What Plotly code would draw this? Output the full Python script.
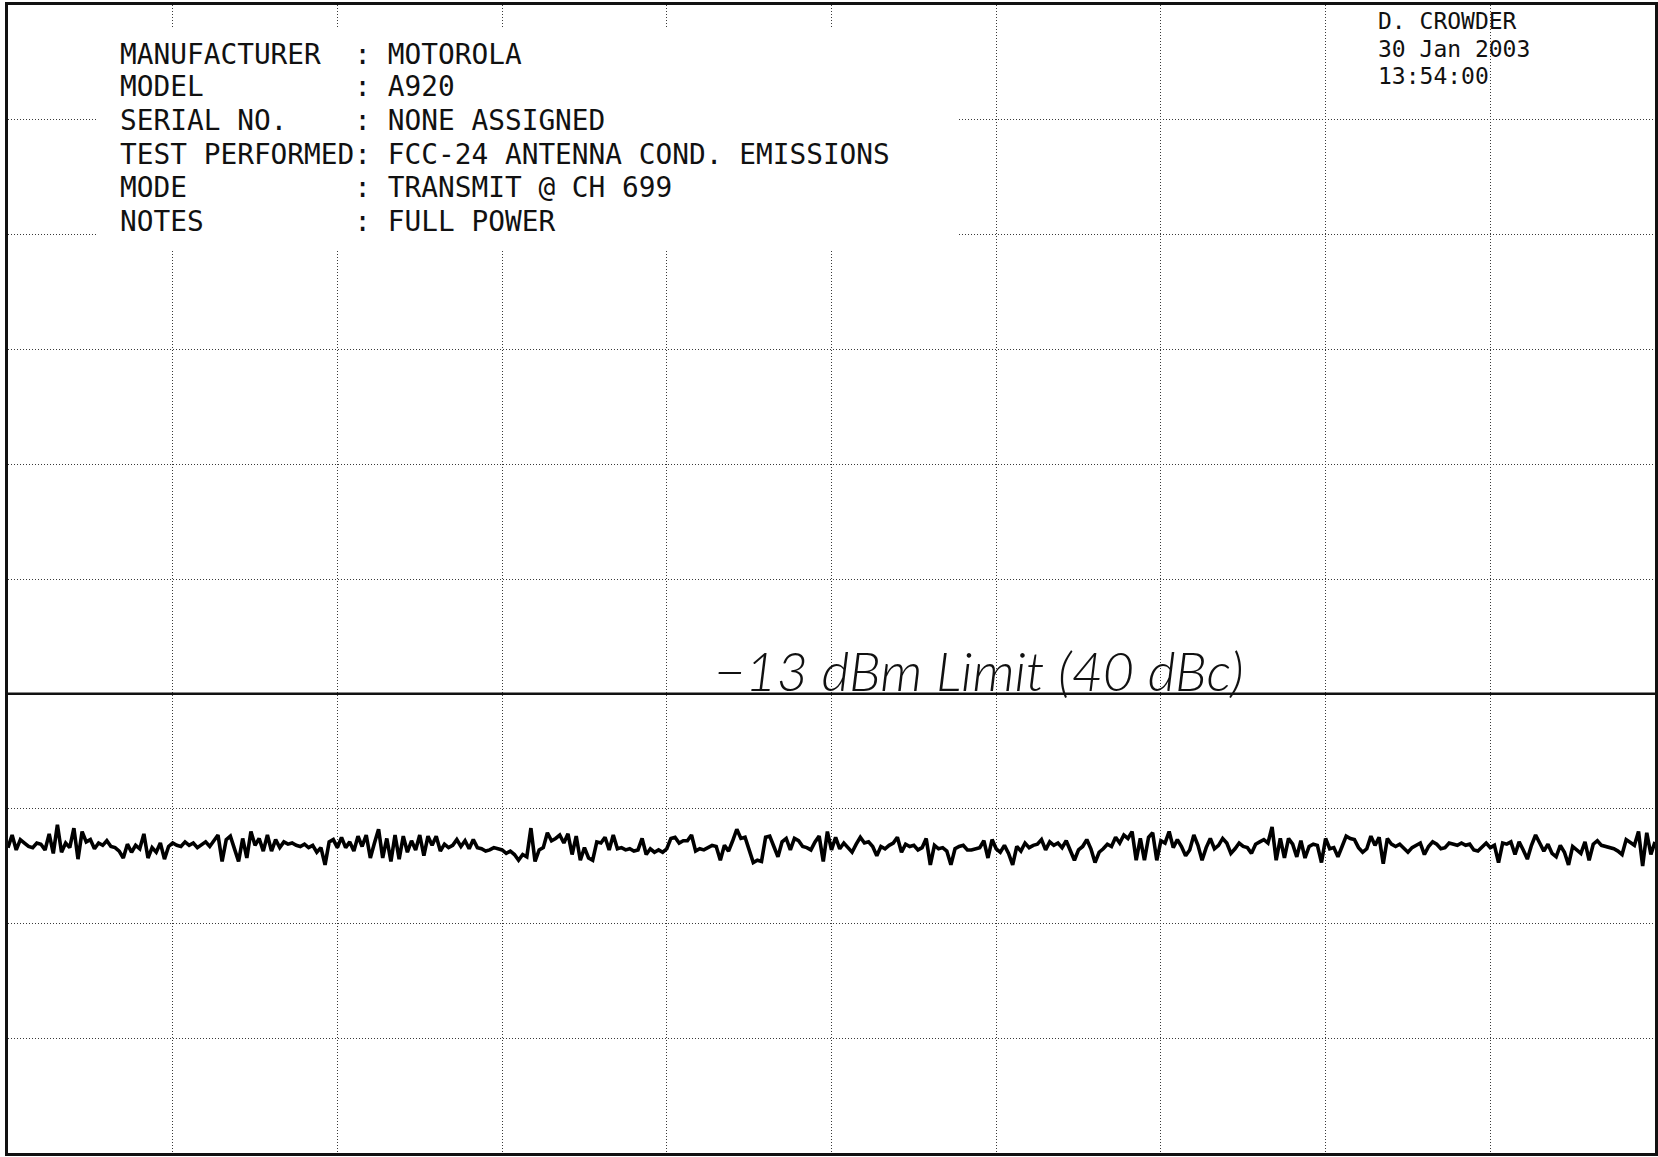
import plotly.graph_objects as go

# ---- data ----
ref_level_dbm = 47          # top of screen
db_per_div = 10
n_divs = 10
limit_dbm = -13

trace_dbm = [
    -26.4, -25.3, -26.6, -25.7, -26.0, -26.3, -26.4, -26.0, -26.1, -26.6, -25.2, -26.9, -24.4,
    -26.8, -26.0, -26.4, -24.7, -27.4, -25.0, -25.9, -25.7, -26.5, -26.0, -26.2, -25.8, -26.3,
    -26.4, -26.7, -27.3, -26.1, -26.8, -26.2, -26.5, -25.2, -27.3, -26.4, -26.8, -26.0,
    -27.4, -26.3, -26.0, -26.2, -26.3, -25.9, -26.2, -26.0, -26.4, -26.1, -25.9, -26.3,
    -25.8, -25.3, -27.6, -25.7, -25.4, -26.5, -27.6, -25.6, -27.3, -25.0, -26.2, -25.6, -26.7,
    -25.3, -26.7, -25.7, -26.4, -25.9, -26.1, -26.0, -26.2, -26.3, -26.1, -26.4, -26.2,
    -26.8, -26.4, -27.9, -25.9, -25.7, -26.4, -25.5, -26.4, -25.9, -26.7, -25.4, -26.3,
    -25.3, -27.3, -26.0, -24.8, -27.3, -25.6, -27.6, -25.3, -27.4, -25.4, -26.8, -25.8, -26.6,
    -25.3, -27.1, -25.4, -26.2, -25.4, -26.7, -26.1, -26.4, -26.2, -25.7, -26.3, -25.8, -26.5,
    -25.7, -26.4, -26.5, -26.7, -26.6, -26.4, -26.5, -26.6, -26.9, -26.7, -27.0, -27.5,
    -27.0, -27.2, -24.7, -27.6, -26.6, -26.4, -25.1, -25.8, -25.6, -25.3, -26.0, -25.2,
    -27.0, -25.4, -27.5, -26.4, -27.3, -27.5, -25.9, -26.0, -25.5, -26.6, -25.3, -26.5,
    -26.4, -26.6, -26.5, -26.7, -26.6, -25.6, -27.0, -26.5, -26.8, -26.6, -26.8, -26.5,
    -25.6, -25.5, -26.0, -25.8, -25.8, -25.3, -26.7, -26.5, -26.6, -26.4, -26.2, -26.3,
    -27.5, -26.2, -26.7, -25.8, -24.8, -25.6, -25.5, -26.6, -27.7, -27.5, -27.6, -25.5,
    -25.4, -26.3, -27.2, -25.9, -25.6, -26.6, -25.6, -25.8, -26.3, -26.4, -26.6, -25.9,
    -25.4, -27.6, -25.0, -26.6, -25.5, -26.5, -26.0, -26.4, -26.8, -26.1, -25.5, -26.0,
    -25.9, -26.3, -27.1, -26.3, -26.5, -26.2, -26.0, -25.5, -26.8, -26.1, -26.3, -26.2,
    -26.6, -26.4, -25.6, -27.9, -26.2, -26.5, -26.4, -26.7, -27.9, -26.5, -26.3, -26.2,
    -26.6, -26.6, -26.5, -26.4, -25.8, -27.3, -25.7, -26.5, -26.8, -26.2, -26.9, -27.9,
    -26.3, -26.7, -26.0, -26.4, -26.2, -26.1, -25.7, -26.6, -25.9, -26.2, -26.0, -26.4,
    -25.8, -26.6, -27.5, -26.6, -26.3, -25.7, -26.5, -27.7, -26.8, -26.5, -26.1, -26.3,
    -25.5, -26.0, -25.3, -25.6, -25.0, -27.5, -25.6, -27.5, -25.5, -25.1, -27.5, -25.8,
    -26.0, -25.0, -26.4, -25.7, -26.3, -27.1, -26.6, -25.3, -26.2, -27.5, -26.4, -25.6,
    -26.5, -26.2, -25.6, -26.0, -26.9, -26.5, -26.0, -26.3, -26.4, -26.9, -26.1, -25.9,
    -25.7, -26.0, -24.6, -27.5, -25.6, -27.3, -25.6, -26.1, -27.2, -25.8, -27.3, -26.3,
    -26.1, -26.2, -27.7, -25.6, -26.5, -26.4, -27.2, -26.3, -25.4, -25.6, -25.7, -26.4,
    -26.8, -26.5, -25.4, -26.2, -25.5, -27.8, -25.6, -26.1, -26.3, -26.1, -26.5, -26.8,
    -26.4, -26.2, -26.0, -27.0, -26.3, -25.9, -26.1, -26.5, -26.4, -26.0, -26.1, -26.2,
    -26.0, -26.2, -26.1, -26.6, -26.7, -26.3, -26.0, -26.4, -26.2, -27.7, -26.0, -26.1,
    -25.9, -27.0, -25.9, -26.6, -27.4, -26.2, -25.3, -26.0, -26.7, -26.1, -26.9, -27.2,
    -26.2, -26.8, -27.9, -26.3, -26.6, -26.9, -25.9, -27.5, -26.1, -25.8, -26.2, -26.3,
    -26.4, -26.5, -26.7, -27.0, -25.7, -26.0, -26.2, -25.0, -28.0, -25.1, -27.0, -25.9,
]

header_labels = ["MANUFACTURER", "MODEL", "SERIAL NO.", "TEST PERFORMED", "MODE", "NOTES"]
header_values = ["MOTOROLA", "A920", "NONE ASSIGNED", "FCC-24 ANTENNA COND. EMISSIONS",
                 "TRANSMIT @ CH 699", "FULL POWER"]
stamp_lines = ["D. CROWDER", "30 Jan 2003", "13:54:00"]
limit_note = "\u221213 dBm Limit (40 dBc)"

# ---- geometry ----
W, H = 1658, 1157
ML, MR, MT, MB = 8, 0, 5, 4
PW, PH = W - ML - MR, H - MT - MB


def px(x):
    return (x - ML) / PW


def py(y):
    return 1 - (y - MT) / PH


n = len(trace_dbm)
sweep = list(range(n))
y_top = ref_level_dbm
y_bot = ref_level_dbm - db_per_div * n_divs

fig = go.Figure()
fig.add_trace(go.Scatter(x=[0, n - 1], y=[limit_dbm, limit_dbm], mode="lines",
                         line=dict(color="#111111", width=2.6), hoverinfo="skip",
                         showlegend=False))
fig.add_trace(go.Scatter(x=sweep, y=trace_dbm, mode="lines",
                         line=dict(color="#000000", width=3.6), showlegend=False))

axis_common = dict(showline=True, mirror=True, linecolor="#111111", linewidth=2.5,
                   showgrid=True, gridcolor="#3a3a3a", gridwidth=1, griddash="1px,2px",
                   zeroline=False, showticklabels=False, ticks="")
fig.update_xaxes(range=[0, n - 1], dtick=(n - 1) / n_divs, tick0=0, **axis_common)
fig.update_yaxes(range=[y_bot, y_top], dtick=db_per_div, tick0=y_bot, **axis_common)

# white box behind header text (grid hidden there)
fig.add_shape(type="rect", xref="paper", yref="paper",
              x0=px(97), x1=px(960), y0=py(250), y1=py(27),
              fillcolor="white", line=dict(width=0), layer="above")

mono = "DejaVu Sans Mono"
row_y = [54, 87, 120.5, 154.5, 188, 221]
for lab, val, yy in zip(header_labels, header_values, row_y):
    txt = f"{lab:<14}: {val}"
    fig.add_annotation(x=px(118), y=py(yy), xref="paper", yref="paper",
                       text=txt.replace(" ", "\u00a0"), showarrow=False,
                       xanchor="left", yanchor="middle",
                       font=dict(family=mono, size=27.8, color="#111111"))

for i, s in enumerate(stamp_lines):
    fig.add_annotation(x=px(1378), y=py(21 + 27.5 * i), xref="paper", yref="paper",
                       text=s.replace(" ", "\u00a0"), showarrow=False,
                       xanchor="left", yanchor="middle",
                       font=dict(family=mono, size=23, color="#111111"))

fig.add_annotation(x=px(981), y=py(670), xref="paper", yref="paper",
                   text=limit_note, showarrow=False, xanchor="center", yanchor="middle",
                   font=dict(family="Lato", size=54, color="#111111", style="italic",
                             weight=300))

fig.update_layout(width=W, height=H, margin=dict(l=ML, r=MR, t=MT, b=MB, pad=0),
                  paper_bgcolor="white", plot_bgcolor="white", showlegend=False)

fig.write_html("out.html", config={"displayModeBar": False},
               post_script="document.body.style.margin='0';")
